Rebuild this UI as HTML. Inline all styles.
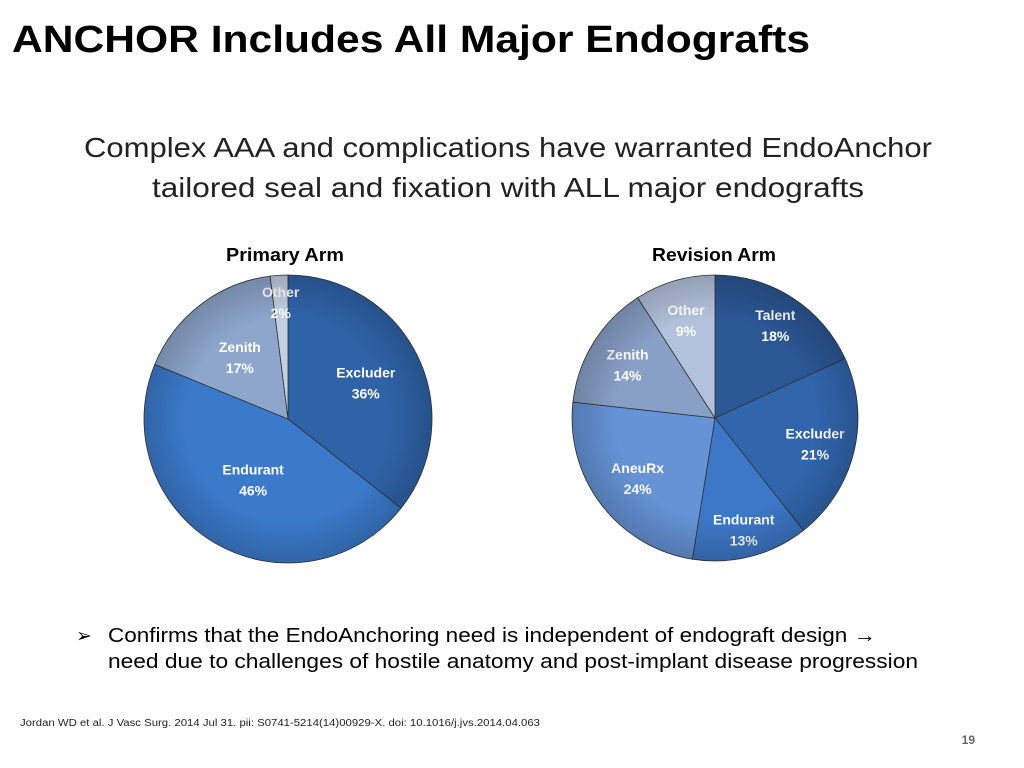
<!DOCTYPE html>
<html><head><meta charset="utf-8"><style>
html,body{margin:0;padding:0;background:#fff;}
svg{display:block;font-family:"Liberation Sans",sans-serif;}
</style></head><body>
<svg id="s" width="1024" height="768" viewBox="0 0 1024 768">
<defs>
<radialGradient id="sh" cx="0.5" cy="0.5" r="0.5"><stop offset="0.7" stop-color="#000" stop-opacity="0"/><stop offset="1" stop-color="#000" stop-opacity="0.18"/></radialGradient>
</defs>
<text x="12" y="52" font-size="38" font-weight="bold" textLength="798" lengthAdjust="spacingAndGlyphs">ANCHOR Includes All Major Endografts</text>
<text x="508" y="157" font-size="28" text-anchor="middle" fill="#222" textLength="848" lengthAdjust="spacingAndGlyphs">Complex AAA and complications have warranted EndoAnchor</text>
<text x="508" y="197" font-size="28" text-anchor="middle" fill="#222" textLength="712" lengthAdjust="spacingAndGlyphs">tailored seal and fixation with ALL major endografts</text>
<text x="285" y="261" font-size="18" font-weight="bold" text-anchor="middle" textLength="118" lengthAdjust="spacingAndGlyphs">Primary Arm</text>
<text x="714" y="261" font-size="18" font-weight="bold" text-anchor="middle" textLength="124" lengthAdjust="spacingAndGlyphs">Revision Arm</text>
<g id="p1"></g>
<g id="p2"></g>
<text x="76" y="642" font-size="19">➢</text>
<text x="108" y="642" font-size="20" fill="#000" textLength="768" lengthAdjust="spacingAndGlyphs">Confirms that the EndoAnchoring need is independent of endograft design →</text>
<text x="108" y="668" font-size="20" fill="#000" textLength="810" lengthAdjust="spacingAndGlyphs">need due to challenges of hostile anatomy and post-implant disease progression</text>
<text x="20" y="726" font-size="10" fill="#222" textLength="520" lengthAdjust="spacingAndGlyphs">Jordan WD et al. J Vasc Surg. 2014 Jul 31. pii: S0741-5214(14)00929-X. doi: 10.1016/j.jvs.2014.04.063</text>
<text x="975" y="744" font-size="12" font-weight="bold" fill="#666" text-anchor="end">19</text>
</svg>
<script>
const primaryLabels=["Excluder","Endurant","Zenith","Other"];
const primaryValues=[36,46,17,2];
const revisionLabels=["Talent","Excluder","Endurant","AneuRx","Zenith","Other"];
const revisionValues=[18,21,13,24,14,9];
const NS="http://www.w3.org/2000/svg";
function pie(gid,labels,vals,cx,cy,r,colors,lr){
  const g=document.getElementById(gid);
  const tot=vals.reduce((a,b)=>a+b,0);
  let a0=0;
  vals.forEach((v,i)=>{
    const a1=a0+v/tot*2*Math.PI;
    const x0=cx+r*Math.sin(a0),y0=cy-r*Math.cos(a0),x1=cx+r*Math.sin(a1),y1=cy-r*Math.cos(a1);
    const p=document.createElementNS(NS,"path");
    p.setAttribute("d",`M${cx},${cy}L${x0},${y0}A${r},${r} 0 ${a1-a0>Math.PI?1:0} 1 ${x1},${y1}Z`);
    p.setAttribute("fill",colors[i]);p.setAttribute("stroke","#333");p.setAttribute("stroke-width","0.8");
    
    
    g.appendChild(p);
    const am=(a0+a1)/2, rr=r*lr[i];
    const tx=cx+rr*Math.sin(am),ty=cy-rr*Math.cos(am);
    [labels[i],v+"%"].forEach((s,k)=>{
      const t=document.createElementNS(NS,"text");
      t.setAttribute("x",tx);t.setAttribute("y",ty+k*21-4);
      t.setAttribute("text-anchor","middle");t.setAttribute("font-size","14");t.setAttribute("font-weight","bold");t.setAttribute("fill","#fff");
      t.textContent=s;
      
      
      g.appendChild(t);
    });
    a0=a1;
  });
  const c=document.createElementNS(NS,"circle");
  c.setAttribute("cx",cx);c.setAttribute("cy",cy);c.setAttribute("r",r);c.setAttribute("fill","url(#sh)");
  
  
  g.appendChild(c);
}
pie("p1",primaryLabels,primaryValues,288,419,144,["#2f63a8","#3b7acb","#8ea6cc","#c3d0e4"],[0.6,0.48,0.55,0.82]);
pie("p2",revisionLabels,revisionValues,715,418,143,["#2b5794","#3166ad","#3d78c8","#6593d6","#889fc6","#b3c2dc"],[0.78,0.72,0.8,0.68,0.72,0.72]);
</script>
</body></html>
